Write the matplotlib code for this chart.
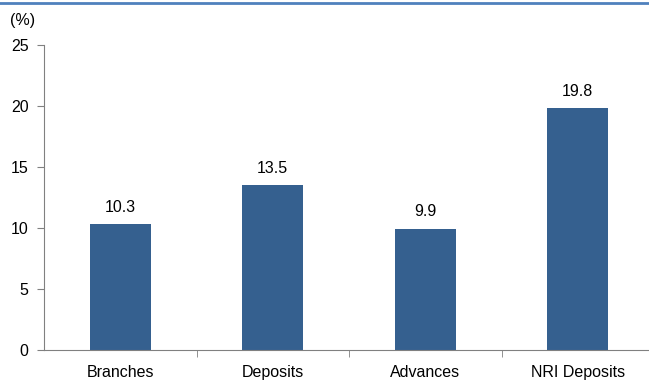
import matplotlib
matplotlib.use("Agg")
import matplotlib.pyplot as plt

categories = ["Branches", "Deposits", "Advances", "NRI Deposits"]
values = [10.3, 13.5, 9.9, 19.8]
yticks = [0, 5, 10, 15, 20, 25]

plt.rcParams['font.family'] = ['Liberation Sans', 'DejaVu Sans']
fs = 11.5

fig = plt.figure(figsize=(6.49, 3.81), dpi=100)
ax = fig.add_axes([44 / 649, 31 / 381, 610 / 649, 305 / 381])

x = range(len(categories))
bars = ax.bar(x, values, width=0.4, color="#35608f", zorder=2)
for xi, v in zip(x, values):
    ax.text(xi, v + 0.8, f"{v:.1f}", ha="center", va="bottom", fontsize=fs)

ax.set_xlim(-0.5, 3.5)
ax.set_ylim(0, 25)
ax.set_yticks(yticks)
ax.set_xticks(list(x))
ax.set_xticklabels(categories, fontsize=fs)
ax.tick_params(axis="x", which="major", length=0, pad=11)
ax.set_xticks([0.5, 1.5, 2.5], minor=True)
ax.tick_params(axis="x", which="minor", length=5, color="#808080")
ax.tick_params(axis="y", length=5, color="#808080", labelsize=fs, pad=6)

for s in ["top", "right"]:
    ax.spines[s].set_visible(False)
for s in ["left", "bottom"]:
    ax.spines[s].set_color("#808080")

fig.text(10 / 649, 1 - 21 / 381, "(%)", fontsize=fs, va="center", ha="left")
fig.add_artist(plt.Line2D([0, 1], [1 - 3 / 381, 1 - 3 / 381], color="#4f81bd", lw=2))

fig.savefig("out.png", dpi=100)
